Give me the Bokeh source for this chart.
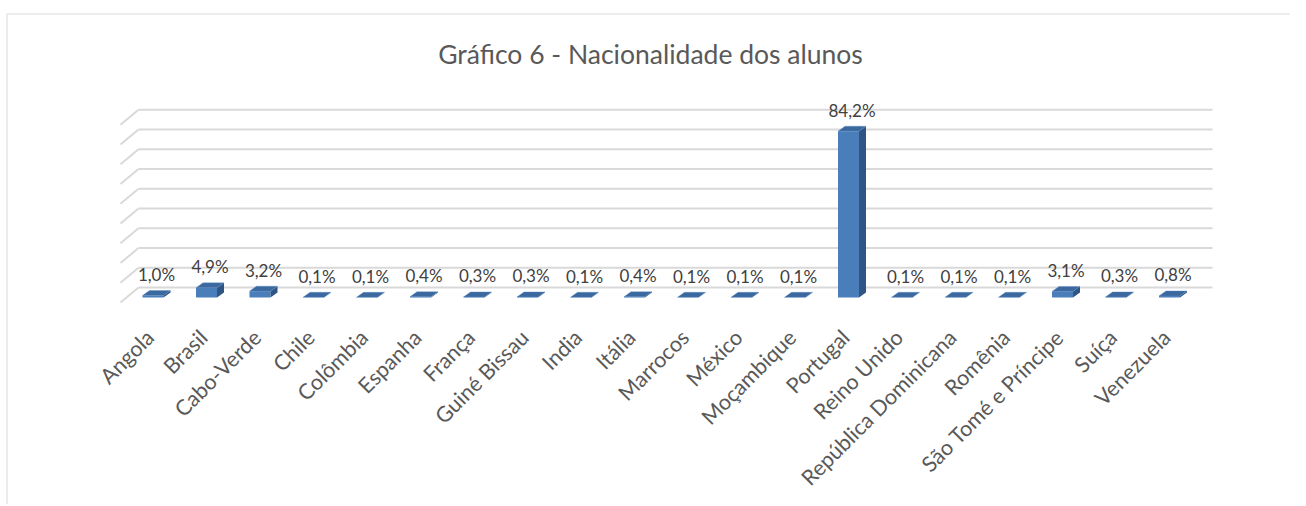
import math
from bokeh.plotting import figure
from bokeh.models import Label, ColumnDataSource
from bokeh.core.properties import value
from bokeh.embed import file_html
from bokeh.resources import INLINE

# ---- data ----
categories = ["Angola", "Brasil", "Cabo-Verde", "Chile", "Colômbia", "Espanha", "França",
              "Guiné Bissau", "India", "Itália", "Marrocos", "México", "Moçambique",
              "Portugal", "Reino Unido", "República Dominicana", "Romênia",
              "São Tomé e Príncipe", "Suíça", "Venezuela"]
values = [1.0, 4.9, 3.2, 0.1, 0.1, 0.4, 0.3, 0.3, 0.1, 0.4, 0.1, 0.1, 0.1,
          84.2, 0.1, 0.1, 0.1, 3.1, 0.3, 0.8]
value_labels = ["1,0%", "4,9%", "3,2%", "0,1%", "0,1%", "0,4%", "0,3%", "0,3%", "0,1%",
                "0,4%", "0,1%", "0,1%", "0,1%", "84,2%", "0,1%", "0,1%", "0,1%",
                "3,1%", "0,3%", "0,8%"]
grid_ticks = [0, 10, 20, 30, 40, 50, 60, 70, 80, 90]
title_text = "Gráfico 6 - Nacionalidade dos alunos"

# ---- layout (pixels -> data) ----
W, H = 1290, 504
ORIGIN = 0           # page offset of the figure
PX_X = 53.5          # pixels per category
PX_Y = 1.975         # pixels per percent
X0_PAGE = 152.5      # page x of first category front centre
Y0_PAGE = 297.0      # page y of value 0 (front)
x_start = (ORIGIN - X0_PAGE) / PX_X
x_end = (ORIGIN + W - X0_PAGE) / PX_X
y_end = (Y0_PAGE - ORIGIN) / PX_Y
y_start = (Y0_PAGE - ORIGIN - H) / PX_Y

def px(dx):
    return dx / PX_X

def py(dy):
    return dy / PX_Y

p = figure(width=W, height=H, x_range=(x_start, x_end), y_range=(y_start, y_end),
           output_backend="svg", toolbar_location=None, min_border=0,
           min_border_left=0, min_border_right=0, min_border_top=0, min_border_bottom=0)
p.axis.visible = False
p.grid.visible = False
p.outline_line_color = None
p.background_fill_color = "white"
p.border_fill_color = "white"

GRID = "#d9d9d9"
# back wall geometry
back_dy = py(10)     # back wall raised 10px above bar front base
wall_left = px(138 - X0_PAGE)
wall_right = px(1212 - X0_PAGE)
side_dx = px(-18)
side_dy = py(-15)
gx0, gy0, gx1, gy1 = [], [], [], []
sx0, sy0, sx1, sy1 = [], [], [], []
for t in grid_ticks:
    yb = t + back_dy
    gx0.append(wall_left); gx1.append(wall_right); gy0.append(yb); gy1.append(yb)
    sx0.append(wall_left); sy0.append(yb); sx1.append(wall_left + side_dx); sy1.append(yb + side_dy)
p.segment(gx0, gy0, gx1, gy1, line_color=GRID, line_width=2)
p.segment(sx0, sy0, sx1, sy1, line_color=GRID, line_width=2)

# ---- 3D bars ----
half = px(10.5)
ddx = px(7)
ddy = py(5)
FRONT = "#4a7ebb"
TOP = "#3b689f"
SIDE = "#2f5585"
xs = list(range(len(categories)))
front_l = [x - half for x in xs]
front_r = [x + half for x in xs]
p.quad(left=front_l, right=front_r, bottom=[0] * len(xs), top=values,
       fill_color=FRONT, line_color=None)
top_x, top_y, side_x, side_y = [], [], [], []
for x, v in zip(xs, values):
    top_x.append([x - half, x + half, x + half + ddx, x - half + ddx])
    top_y.append([v, v, v + ddy, v + ddy])
    side_x.append([x + half, x + half + ddx, x + half + ddx, x + half])
    side_y.append([0, ddy, v + ddy, v])
p.patches(side_x, side_y, fill_color=SIDE, line_color=None)
p.patches(top_x, top_y, fill_color=TOP, line_color="#5b8cc9", line_width=0.6, line_alpha=0.6)

# ---- data labels ----
lab_src = ColumnDataSource(dict(x=[x + ddx / 2 for x in xs],
                                y=[v + ddy for v in values], t=value_labels))
p.text(x="x", y="y", text="t", source=lab_src, text_align="center",
       text_baseline="middle", y_offset=-16, text_font=value("Lato"),
       text_font_size="17px", text_color="#404040")

# ---- category labels ----
cat_src = ColumnDataSource(dict(x=[x + px(-3) for x in xs], y=[py(-36)] * len(xs), t=categories))
p.text(x="x", y="y", text="t", source=cat_src, angle=math.pi / 4, text_align="right",
       text_baseline="middle", text_font=value("Lato"), text_font_size="21.5px",
       text_color="#595959")

# ---- title ----
p.add_layout(Label(x=650, y=H - 53, x_units="screen", y_units="screen", text=title_text,
                   text_align="center", text_baseline="middle", text_font="Lato",
                   text_font_size="26.5px", text_color="#595959"))

# ---- chart border (left & top) ----
bx = x_start + px(6.5)
by = y_end - py(13.5)
p.line([bx, bx, x_end], [y_start, by, by], line_color="#d9d9d9", line_width=1)

open("out.html", "w").write(file_html(p, INLINE))
